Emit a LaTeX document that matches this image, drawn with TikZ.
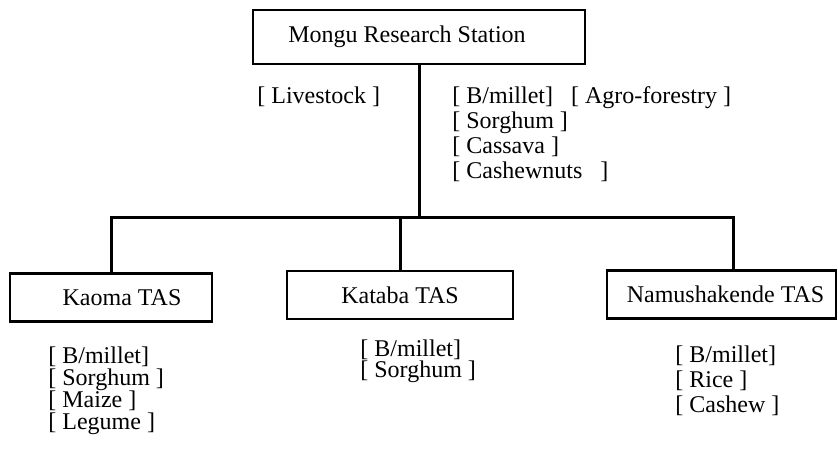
\documentclass[tikz,border=0pt]{standalone}
\usepackage{fontspec}
\setmainfont{Liberation Serif}
\usetikzlibrary{positioning}

\begin{document}
\begin{tikzpicture}[x=0.5pt, y=-0.5pt, font=\fontsize{12}{14}\selectfont,
  unitbox/.style={draw, line width=1.2pt, minimum width=#1, minimum height=24pt, inner sep=0pt},
  croplist/.style={anchor=north west, align=left, inner sep=0pt, font=\fontsize{12}{#1}\selectfont},
  link/.style={line width=1.5pt}]
  \useasboundingbox (0,0) rectangle (838,451);
  % station and the three TAS boxes
  \node[unitbox=166pt, minimum height=27pt] (mongu) at (419,37) {Mongu Research Station\hspace*{12pt}};
  \node[unitbox=101pt] (kaoma) at (111,297.5) {\hspace*{11pt}Kaoma TAS};
  \node[unitbox=113pt] (kataba) at (400,295) {Kataba TAS};
  \node[unitbox=114.5pt] (namu) at (721.5,294.5) {\hspace*{4pt}Namushakende TAS};
  % connectors
  \coordinate (junction) at (419,217);
  \draw[link] (mongu) -- (junction);
  \draw[link] (kaoma) |- (junction) -| ([xshift=6pt]namu.north);
  \draw[link] (kataba) -- (kataba |- junction);
  % crop lists
  \node[croplist=12.5pt] (livestock) at (257,86) {[ Livestock ]};
  \node[croplist=12.5pt] (mongucrops) at (452,86)
    {[ B/millet]\enspace\ [ Agro-forestry ]\\{}[ Sorghum ]\\{}[ Cassava ]\\{}[ Cashewnuts\ \ \ ]};
  \node[croplist=11pt] (kaomacrops) at (48,346)
    {[ B/millet]\\{}[ Sorghum ]\\{}[ Maize ]\\{}[ Legume ]};
  \node[croplist=9pt] (katabacrops) at (360,339)
    {[ B/millet]\\{}[ Sorghum ]};
  \node[croplist=12.5pt] (namucrops) at (675,345)
    {[ B/millet]\\{}[ Rice ]\\{}[ Cashew ]};
\end{tikzpicture}
\end{document}
